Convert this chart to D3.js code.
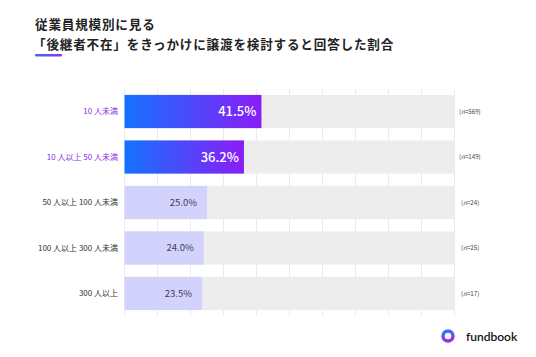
<!DOCTYPE html>
<html><head><meta charset="utf-8">
<script src="https://cdn.jsdelivr.net/npm/d3@7"></script>
<style>body{margin:0;background:#fff}svg{display:block}</style>
</head><body>
<script>
const categories = ["10 人未満","10 人以上 50 人未満","50 人以上 100 人未満","100 人以上 300 人未満","300 人以上"];
const values = [41.5, 36.2, 25.0, 24.0, 23.5];
const nLabels = ["569","149","24","25","17"];
const highlighted = [true, true, false, false, false];
const ticks = [0,10,20,30,40,50,60,70,80,90,100];

const W=536,H=357;
const svg=d3.select("body").append("svg").attr("width",W).attr("height",H)
  .style("font-family","'Noto Sans CJK JP','Noto Sans',sans-serif");
const defs=svg.append("defs");
const g1=defs.append("linearGradient").attr("id","barGrad").attr("x1","0%").attr("x2","100%");
g1.append("stop").attr("offset","0%").attr("stop-color","#1472ff");
g1.append("stop").attr("offset","100%").attr("stop-color","#8a1df6");
const g2=defs.append("linearGradient").attr("id","lineGrad").attr("x1","0%").attr("x2","100%");
g2.append("stop").attr("offset","0%").attr("stop-color","#3a6cf6");
g2.append("stop").attr("offset","100%").attr("stop-color","#9a2bf2");
const g3=defs.append("linearGradient").attr("id","logoGrad").attr("x1","0%").attr("y1","0%").attr("x2","40%").attr("y2","100%");
g3.append("stop").attr("offset","0%").attr("stop-color","#1a7cff");
g3.append("stop").attr("offset","100%").attr("stop-color","#9b30f0");

// title
const title=svg.append("text").attr("fill","#222").attr("font-weight","bold")
  .attr("font-size",12.6).style("letter-spacing","0.8px");
title.append("tspan").attr("x",35).attr("y",28.5).text("従業員規模別に見る");
title.append("tspan").attr("x",33).attr("y",48.5).text("「後継者不在」をきっかけに譲渡を検討すると回答した割合");
svg.append("rect").attr("x",35).attr("y",54).attr("width",27).attr("height",2.5).attr("rx",1).attr("fill","url(#lineGrad)");

const x=d3.scaleLinear().domain([0,100]).range([124.5,454.5]);
const y=d3.scaleBand().domain(categories).range([89,316]).paddingInner(0.27).paddingOuter(0.13);

// gridlines
svg.append("g").selectAll("line").data(ticks).join("line")
  .attr("x1",d=>x(d)).attr("x2",d=>x(d)).attr("y1",89).attr("y2",316)
  .attr("stroke","#ebebeb").attr("stroke-width",1);

// tracks
svg.append("g").selectAll("rect").data(categories).join("rect")
  .attr("x",x(0)).attr("y",d=>y(d)).attr("width",x(100)-x(0)).attr("height",y.bandwidth())
  .attr("fill","#ededed");

// bars
svg.append("g").selectAll("rect").data(values).join("rect")
  .attr("x",x(0)).attr("y",(d,i)=>y(categories[i])).attr("width",d=>x(d)-x(0)).attr("height",y.bandwidth())
  .attr("fill",(d,i)=>highlighted[i]?"url(#barGrad)":"#d3d2fd");

// value labels
svg.append("g").selectAll("text").data(values).join("text")
  .attr("x",(d,i)=>x(d)-(highlighted[i]?5:10))
  .attr("y",(d,i)=>y(categories[i])+y.bandwidth()/2)
  .attr("dy","0.36em").attr("text-anchor","end")
  .attr("font-size",(d,i)=>highlighted[i]?13:9.5)
  .attr("fill",(d,i)=>highlighted[i]?"#fff":"#3d3d55")
  .attr("font-weight",(d,i)=>highlighted[i]?500:400)
  .text(d=>d.toFixed(1)+"%");

// category labels
svg.append("g").selectAll("text").data(categories).join("text")
  .attr("x",118).attr("y",d=>y(d)+y.bandwidth()/2).attr("dy","0.36em")
  .attr("text-anchor","end").attr("font-size",8)
  .attr("fill",(d,i)=>highlighted[i]?"#8a2be2":"#333")
  .text(d=>d);

// n labels
const nl=svg.append("g").selectAll("text").data(nLabels).join("text")
  .attr("x",(d,i)=>d.length>2?459:461).attr("y",(d,i)=>y(categories[i])+y.bandwidth()/2).attr("dy","0.36em")
  .attr("font-size",6.2).attr("fill","#444");
nl.append("tspan").text("(");
nl.append("tspan").attr("font-style","italic").text("n");
nl.append("tspan").text(d=>"="+d+")");

// logo
const lg=svg.append("g");
lg.append("circle").attr("cx",448).attr("cy",336).attr("r",5).attr("fill","none").attr("stroke","url(#logoGrad)").attr("stroke-width",3.5);
lg.append("text").attr("x",466).attr("y",340.5).attr("font-size",12).attr("font-weight",600)
  .attr("fill","#111").attr("font-family","Lato,'Noto Sans',sans-serif").text("fundbook");
</script>
</body></html>
